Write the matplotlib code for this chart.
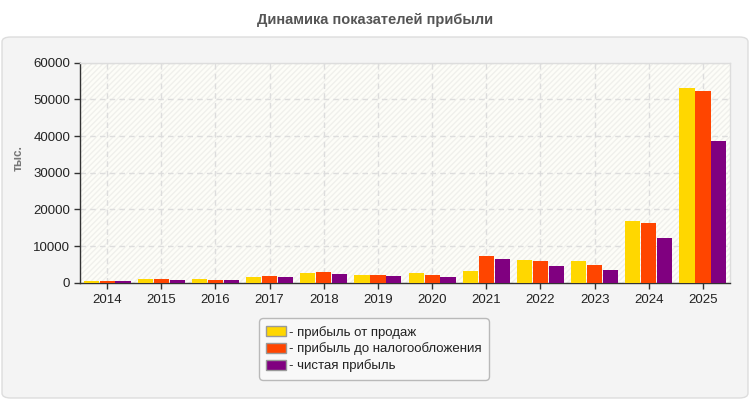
import matplotlib
matplotlib.use("Agg")
import matplotlib.pyplot as plt
from matplotlib.patches import FancyBboxPatch, Rectangle
import numpy as np

years = ["2014", "2015", "2016", "2017", "2018", "2019", "2020", "2021", "2022", "2023", "2024", "2025"]
sales_profit = [450, 1000, 1000, 1550, 2640, 2100, 2640, 3190, 6190, 5900, 16800, 53100]
pretax_profit = [500, 1000, 730, 1830, 2920, 2100, 2100, 7280, 5900, 4820, 16270, 52280]
net_profit = [420, 730, 730, 1550, 2370, 1830, 1550, 6460, 4550, 3460, 12190, 38700]
series_names = ["- прибыль от продаж", "- прибыль до налогообложения", "- чистая прибыль"]
colors = ["#FFD700", "#FF4500", "#800080"]
title = "Динамика показателей прибыли"
ylabel = "тыс."

plt.rcParams['font.family'] = ['Liberation Sans', 'DejaVu Sans']

W, H = 750, 400
fig = plt.figure(figsize=(7.5, 4), dpi=100)
fig.patch.set_facecolor("white")

# outer panel
panel = FancyBboxPatch((2 / W, 2 / H), 746 / W, 361 / H,
                       boxstyle="round,pad=0,rounding_size=0.012",
                       transform=fig.transFigure, facecolor="#f4f4f4",
                       edgecolor="#dddddd", linewidth=1, zorder=-10)
fig.patches.append(panel)

fig.text(375 / W, 1 - 20 / H, title, ha="center", va="center",
         fontsize=10.5, fontweight="bold", color="#555555")

ax = fig.add_axes([80 / W, 1 - 282.7 / H, 650 / W, 220 / H])
ax.set_facecolor("#fdfdf8")
ax.add_patch(Rectangle((0, 0), 1, 1, transform=ax.transAxes, facecolor="none",
                       edgecolor="#f0f0ec", hatch="//////", linewidth=0, zorder=0))

x = np.arange(len(years))
bw = 0.28
step = 0.295
for i, (vals, c, name) in enumerate(zip([sales_profit, pretax_profit, net_profit], colors, series_names)):
    ax.bar(x + (i - 1) * step, vals, width=bw, color=c, label=name, zorder=3)

ax.set_xlim(-0.5, len(years) - 0.5)
ax.set_ylim(0, 60000)
ax.set_yticks(range(0, 60001, 10000))
ax.set_xticks(x)
ax.set_xticklabels(years)
ax.grid(True, color="#dddddd", linestyle=(0, (4, 3)), linewidth=1, zorder=1)
ax.set_axisbelow(True)
ax.tick_params(axis="both", labelsize=9.5, colors="#333333", labelcolor="#222222")
ax.tick_params(axis="x", length=4, width=1, pad=4)
ax.tick_params(axis="y", length=4, width=1, direction="out", pad=3)
for s in ["left", "bottom"]:
    ax.spines[s].set_color("#333333")
    ax.spines[s].set_linewidth(1)
for s in ["top", "right"]:
    ax.spines[s].set_color("#dddddd")
    ax.spines[s].set_linewidth(1)

fig.text(19 / W, 1 - 158 / H, ylabel, rotation=90, ha="center", va="center",
         fontsize=8.5, fontweight="bold", color="#777777")

leg = fig.legend(loc="center", bbox_to_anchor=(374 / W, 1 - 349 / H),
                 frameon=True, fontsize=9.5, handlelength=1.5, handleheight=0.75,
                 handletextpad=0.2, labelspacing=0.3, borderpad=0.6)
leg.get_frame().set_facecolor("#fafafa")
leg.get_frame().set_edgecolor("#aaaaaa")
leg.get_frame().set_boxstyle("round,pad=0,rounding_size=0.3")
for h in leg.legend_handles:
    h.set_edgecolor("#999999")
    h.set_linewidth(1)
for t in leg.get_texts():
    t.set_color("#222222")

fig.savefig("out.png", dpi=100)
